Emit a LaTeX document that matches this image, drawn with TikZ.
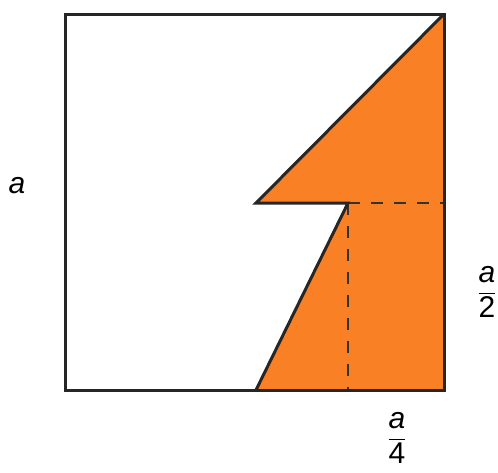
\documentclass[tikz,border=0pt]{standalone}
\usepackage{amsmath}
\usepackage{fontspec}
\setmainfont{Liberation Sans}
\definecolor{sqorange}{RGB}{250,128,38}
\begin{document}
\begin{tikzpicture}[x=1pt, y=-1pt,
  edge/.style={line width=3pt, black!85, line join=miter},
  guide/.style={line width=2.8pt, black!80, dash pattern=on 12pt off 11pt},
  lbl/.style={font=\fontsize{30}{34}\selectfont, inner sep=0pt}]
\useasboundingbox (0,0) rectangle (498,472);
% corners and key points
\coordinate (tl) at (65,14);
\coordinate (tr) at (444,14);
\coordinate (br) at (444,390);
\coordinate (bl) at (65,390);
\coordinate (tip) at (256,203);
\coordinate (mid) at (348,203);
\coordinate (foot) at (256,390);
\coordinate (r2) at (444,203);
\coordinate (b4) at (348,390);
% orange piece
\fill[sqorange] (tr) -- (tip) -- (mid) -- (foot) -- (br) -- cycle;
% dashed guides
\draw[guide] (mid) -- (r2);
\draw[guide] (mid) -- (b4);
% square and outline of the piece
\draw[edge] (tl) rectangle (br);
\draw[edge] (tr) -- (tip) -- (mid) -- (foot);
% labels
\node[lbl] (side) at (17,186) {\itshape a};
\node[lbl] (half) at (487,292) {$\dfrac{\text{\itshape a}}{\text{2}}$};
\node[lbl] (quarter) at (397,438) {$\dfrac{\text{\itshape a}}{\text{4}}$};
\end{tikzpicture}
\end{document}
